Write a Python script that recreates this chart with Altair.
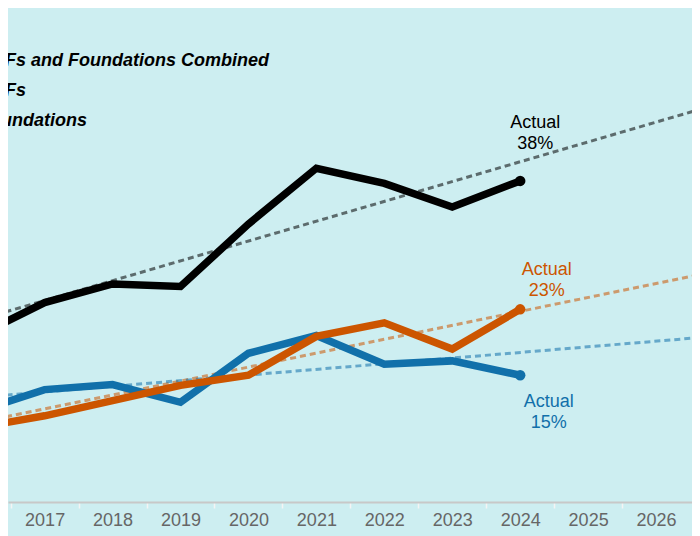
import altair as alt
import pandas as pd

# ---- data ----
years = [2016, 2017, 2018, 2019, 2020, 2021, 2022, 2023, 2024]
combined = [19.6, 23.6, 25.8, 25.5, 32.9, 39.5, 37.7, 34.9, 38.0]
dafs = [8.8, 10.2, 12.0, 13.8, 15.0, 19.6, 21.2, 18.1, 22.8]
foundations = [10.7, 13.3, 13.9, 11.8, 17.6, 19.7, 16.3, 16.7, 15.0]

trend_years = [2016, 2027]
combined_trend = [21.5, 47.3]
dafs_trend = [9.37, 27.5]
foundations_trend = [12.36, 19.7]

axis_years = list(range(2017, 2028))
legend_labels = ["DAFs and Foundations Combined", "DAFs", "Foundations"]

series_names = ["Combined", "DAFs", "Foundations"]
series_vals = [combined, dafs, foundations]
trend_vals = [combined_trend, dafs_trend, foundations_trend]
colors = {"Combined": "#000000", "DAFs": "#cc5500", "Foundations": "#1170aa"}

FONT = "Liberation Sans, Arial, sans-serif"
BG = "#cdeef1"

rows = []
for name, vals in zip(series_names, series_vals):
    for y, v in zip(years, vals):
        rows.append({"series": name, "year": y, "value": v})
df = pd.DataFrame(rows)

trows = []
for name, vals in zip(series_names, trend_vals):
    for y, v in zip(trend_years, vals):
        trows.append({"series": name, "year": y, "value": v})
tdf = pd.DataFrame(trows)

last = df[df["year"] == years[-1]].copy()
last["label"] = last["value"].apply(lambda v: f"Actual\n{round(v)}%")

xscale = alt.Scale(domain=[2016.461, 2026.529], nice=False, zero=False)
yscale = alt.Scale(domain=[0, 58.46], nice=False, zero=False)

xaxis = alt.Axis(
    values=axis_years, format="d", title=None, grid=False,
    tickOffset=-33.96, labelOffset=33.96,
    labelExpr="datum.value > 2026 ? '' : datum.label",
    labelFlush=False, labelOverlap=False, labelBound=False,
    domainColor="#c8c8c8", domainWidth=2,
    tickColor="#f4f4f4", tickWidth=1.5, tickSize=6,
    labelPadding=3, labelFontSize=18, labelColor="#666666", labelFont=FONT,
)

X = alt.X("year:Q", scale=xscale, axis=xaxis)
Y = alt.Y("value:Q", scale=yscale, axis=None)

layers = []
# dashed trend lines
for name in series_names:
    layers.append(
        alt.Chart(tdf[tdf["series"] == name]).mark_line(
            color=colors[name], strokeDash=[6, 4], strokeWidth=3,
            opacity=0.55, clip=True
        ).encode(x=X, y=Y)
    )

# solid lines, blue, orange, black
for name in ["Foundations", "DAFs", "Combined"]:
    layers.append(
        alt.Chart(df[df["series"] == name]).mark_line(
            color=colors[name], strokeWidth=7.5, clip=True
        ).encode(x=X, y=Y)
    )
    layers.append(
        alt.Chart(last[last["series"] == name]).mark_circle(
            color=colors[name], size=110, opacity=1
        ).encode(x=X, y=Y)
    )

# end annotations
offsets = {"Combined": (15, -52.7), "DAFs": (26.5, -34), "Foundations": (28.5, 31.7)}
for name in series_names:
    dx, dy = offsets[name]
    layers.append(
        alt.Chart(last[last["series"] == name]).mark_text(
            color=colors[name], font=FONT, fontSize=18, align="center",
            baseline="alphabetic", lineBreak="\n", lineHeight=21, dx=dx, dy=dy
        ).encode(x=X, y=Y, text="label:N")
    )

# legend texts (cropped at left edge, as in the reference)
for i, lab in enumerate(legend_labels):
    layers.append(
        alt.Chart(pd.DataFrame({"t": [lab]})).mark_text(
            font=FONT, fontSize=18, fontWeight="bold", fontStyle="italic",
            color="#000000", align="left", baseline="alphabetic"
        ).encode(text="t:N", x=alt.value(-29), y=alt.value(57.7 + 30 * i))
    )

chart = alt.layer(*layers).properties(
    width=684, height=494,
    padding={"left": 0, "top": 0, "right": 0, "bottom": 34},
    autosize=alt.AutoSizeParams(type="none"),
).configure(background=BG).configure_view(strokeWidth=0)

chart.save("out.html", embed_options={"renderer": "svg", "actions": False})
